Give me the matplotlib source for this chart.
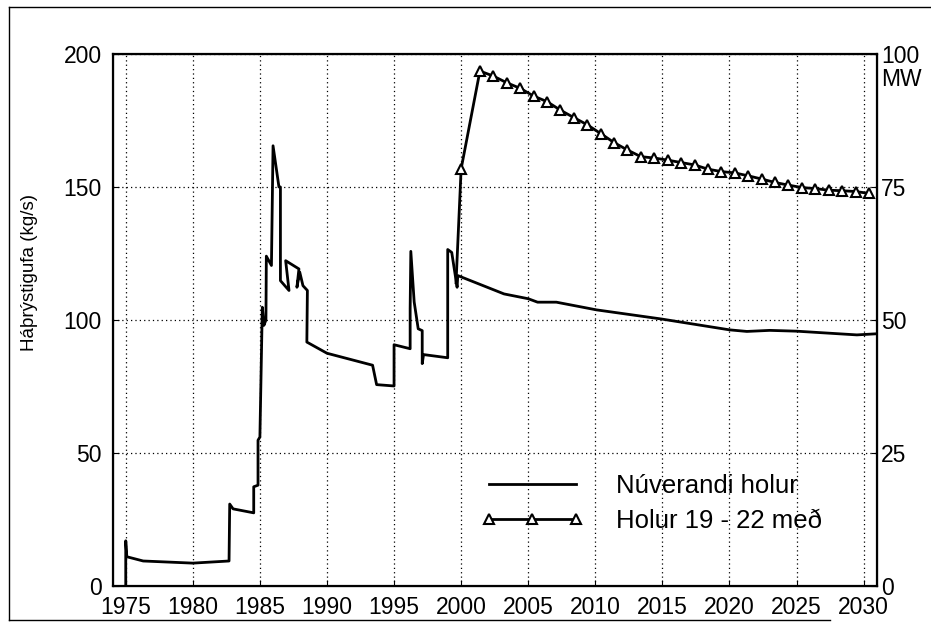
import matplotlib.pyplot as plt
from matplotlib.lines import Line2D

#Datos: Núverandi holur (kg/s)
ar_nu = [1975.0, 1975.0, 1975.08, 1976.3, 1980.0, 1982.7, 1982.75, 1983.0,
         1984.54, 1984.54, 1984.86, 1984.86, 1985.0, 1985.18, 1985.3, 1985.45,
         1985.48, 1985.86, 1985.98, 1986.42, 1986.53, 1986.53, 1987.17, 1986.92,
         1987.91, 1987.76, 1987.97, 1988.21, 1988.54, 1988.5, 1990.0, 1993.4,
         1993.7, 1995.0, 1995.0, 1996.2, 1996.2, 1996.25, 1996.5, 1996.8,
         1997.1, 1997.1, 1997.2, 1999.0, 1999.0, 1999.3, 1999.7, 1999.75,
         2000.6, 2001.4, 2003.2, 2005.0, 2005.7, 2007.1, 2010.1, 2014.9,
         2020.0, 2021.3, 2023.0, 2025.0, 2029.5, 2030.9]
gufa_nu = [0, 17, 11, 9.4, 8.6, 9.4, 30.8, 29.0,
           27.5, 37.3, 37.9, 54.8, 56.0, 104.8, 98.0, 100.0,
           124.0, 120.5, 165.5, 150.0, 150.0, 114.8, 111.1, 122.3,
           119.2, 112.3, 118.0, 112.9, 111.1, 91.7, 87.5, 83.0,
           75.7, 75.2, 90.7, 89.2, 104.2, 125.8, 106.8, 96.7,
           96.0, 83.6, 87.0, 85.8, 126.5, 125.4, 112.3, 116.7,
           115.0, 113.4, 109.8, 108.0, 106.7, 106.7, 103.8, 100.4,
           96.3, 95.7, 96.1, 95.8, 94.4, 94.8]

#Datos: Holur 19 - 22 með (kg/s)
ar_ny = [1999.62, 2000.0] + [2001.4 + k for k in range(30)]
gufa_ny = [114.0, 156.8,
           193.6, 191.7, 189.2, 187.1, 184.2, 182.1, 178.9, 176.1, 173.4, 170.1,
           166.7, 163.9, 161.4, 160.9, 160.1, 159.2, 158.3, 156.7, 155.8, 155.3,
           154.2, 153.0, 151.7, 150.7, 149.8, 149.4, 148.8, 148.6, 148.3, 147.6]

x_ticks = list(range(1975, 2031, 5))
y_ticks = [0, 50, 100, 150, 200]
mw_ticks = [0, 25, 50, 75, 100]

plt.rcParams['font.family'] = ['Liberation Sans', 'DejaVu Sans']

fig = plt.figure(figsize=(9.31, 6.31), dpi=100)
ax = fig.add_axes([113 / 931, 1 - 586 / 631, 764 / 931, 532 / 631])

ax.plot(ar_nu, gufa_nu, color='black', lw=2.0, label='Núverandi holur')
ax.plot(ar_ny, gufa_ny, color='black', lw=2.0, marker='^', markersize=7,
        markerfacecolor='white', markeredgecolor='black', markeredgewidth=1.5,
        markevery=list(range(1, len(ar_ny))), label='Holur 19 - 22 með')

ax.set_xlim(1974.05, 2031.0)
ax.set_ylim(0, 200)
ax.set_xticks(x_ticks)
ax.set_yticks(y_ticks)
ax.grid(True, color='black', linestyle=(0, (1, 2.5)), linewidth=0.9)
ax.tick_params(axis='both', direction='in', length=4, labelsize=16.5)
ax.tick_params(axis='x', pad=7.5)
ax.tick_params(axis='y', pad=8)
for s in ax.spines.values():
    s.set_linewidth(1.6)

ax.set_ylabel('Háþrýstigufa (kg/s)', fontsize=13.5)
ax.yaxis.set_label_coords(-0.098, 0.59)

#Eje derecho en MW
ax2 = ax.twinx()
ax2.set_ylim(0, 100)
ax2.set_yticks(mw_ticks)
ax2.tick_params(axis='y', direction='in', length=4, labelsize=16.5, pad=3)
ax2.text(1.006, 0.974, 'MW', transform=ax2.transAxes, fontsize=16.5,
         ha='left', va='top')

leg = ax.legend(loc='center left', bbox_to_anchor=(0.465, 0.155), frameon=False,
                fontsize=18.5, handlelength=4.0, handletextpad=1.25,
                labelspacing=0.45, borderpad=0, numpoints=3)

#Marco exterior (arriba, izquierda, abajo)
fig.lines.append(Line2D([9 / 931, 931 / 931], [1 - 7 / 631, 1 - 7 / 631],
                        transform=fig.transFigure, color='black', lw=1.0))
fig.lines.append(Line2D([9 / 931, 9 / 931], [1 - 7 / 631, 1 - 620 / 631],
                        transform=fig.transFigure, color='black', lw=1.0))
fig.lines.append(Line2D([9 / 931, 830 / 931], [1 - 620 / 631, 1 - 620 / 631],
                        transform=fig.transFigure, color='black', lw=1.0))

fig.savefig('out.png', dpi=100)
